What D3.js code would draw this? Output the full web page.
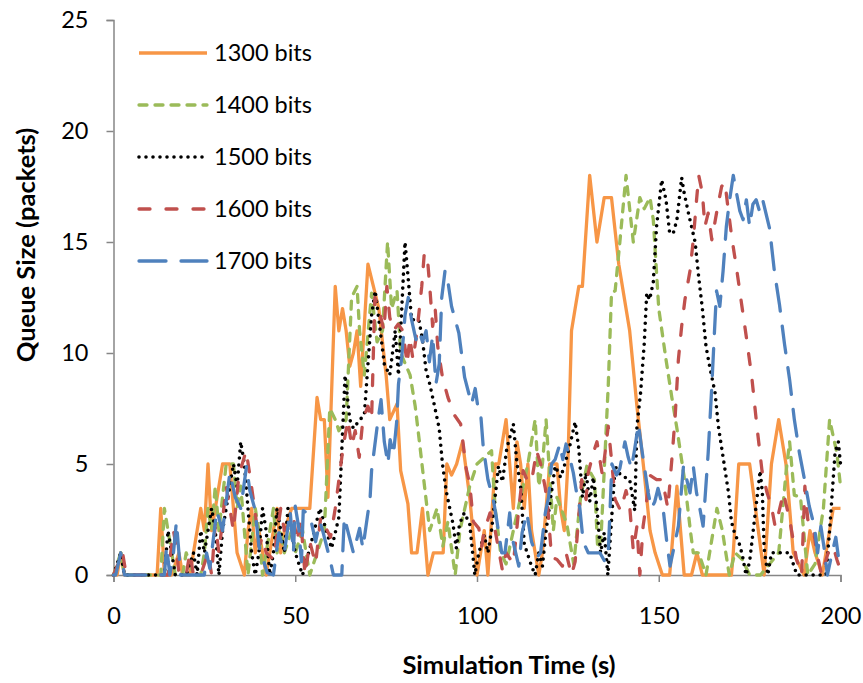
<!DOCTYPE html>
<html><head><meta charset="utf-8">
<script src="https://cdn.jsdelivr.net/npm/d3@7/dist/d3.min.js"></script>
<style>body{margin:0;background:#fff}svg{display:block}text{font-family:Lato,"Open Sans",sans-serif}</style>
</head><body><svg id="c" width="863" height="683"></svg>
<script>
const seriesNames = ["1300 bits","1400 bits","1500 bits","1600 bits","1700 bits"];
const xTicks = [0,50,100,150,200];
const yTicks = [0,5,10,15,20,25];

const s1300 = [[0,0],[1,0],[2,1],[3,0],[12,0],[13,3],[14,0],[16,0],[18,1],[19,0],[21,0],[22,1],[24,3],[25,2],[26,5],[27,2],[28,3],[30,5],[32,5],[33,3],[34,1],[36,0],[37,2],[38,3],[39,1],[40,2],[42,0],[43,1],[45,3],[46,1],[47,2],[49,3],[54,3],[56,8],[57,7],[58,7],[59,3.5],[61,13],[62,11],[63,12],[64,11],[65,9.4],[66,10],[67,11],[68,8.5],[70,14],[71.5,13],[73,12],[75,9],[76,7],[78,7.7],[79,4.7],[81,3.2],[82,1],[83.5,1],[85,3],[86.5,0],[88,1],[90.7,1],[91.7,5],[93,4.5],[94.4,5],[96,6],[98,3.5],[100,0],[101,1],[102,2],[103,0],[105,5],[106,5],[108,7],[110,3],[111,6],[112,5],[113,3],[114,5],[115,2],[116,1],[117,0],[118,1],[119,3],[120,5],[122,5],[123,3],[124,2],[125,5],[126,11],[127,12],[128,13],[129,13],[131,18],[133,15],[135,17],[137,17],[139,14],[142,11],[144,7.6],[146,4.6],[147.6,2],[149,1],[151,0],[153,0],[155,4],[157,0],[159,0],[160.5,1],[162,0],[170,0],[170.5,1],[172,5],[175,5],[179,0],[181,5],[183,7],[185,5],[187,1],[190,0],[191.6,2],[193,1],[195,0],[198,3],[200,3]];

const s1400 = [[0,0],[2,1],[3,0],[13,0],[14,3],[15,2],[16,1],[17,0],[19,0],[20,1],[22,0],[24,0],[25,1],[26,3],[27,2],[28,4],[29,2],[31,5],[33,5],[34,3],[35,4],[36,2],[37,0],[39,3],[40,2],[41,0],[42,1],[44,3],[45,1],[46,2],[47,1],[49,2],[50,1],[52,2],[54,0],[56,1],[58,2],[59.5,7.5],[61,7],[62,6.5],[64,7],[65.5,12.5],[67,13],[67.7,11],[69,9],[71,12.7],[72.5,10.5],[74,11],[75.4,15],[76.5,12],[78,12.8],[79,10],[81.6,9],[83,7.6],[84.3,5.8],[85.7,3.8],[87,2],[89,3],[90.6,1.3],[92,2.4],[94,0],[95.3,2],[98,4],[100,5],[102,5.3],[104,5.6],[105,3],[106.5,1],[108,0.5],[110,2],[112,3.5],[114,5],[116,7],[117,4],[118,5],[119,7],[121,2],[122,3.5],[124.7,2.3],[126.6,0.5],[128.5,3.5],[130.2,4.9],[132.3,4.3],[133.2,1.2],[134.1,1.6],[136.1,8.5],[137,12.7],[138,12.8],[139.3,15],[141,18],[143,15],[144.8,17],[146,16.5],[147.6,17],[148.5,16],[150,12],[152,9.7],[153.6,8],[155,6.6],[157,4.4],[158.7,2],[159.5,1],[161,1],[163,0],[164,1],[166,3],[167.5,2],[169.4,0],[171,1],[173,0.7],[175,0],[178,0],[183,1],[185,4.6],[186,6],[187.3,3.6],[189,3.5],[191,0],[193,0.5],[195.3,3],[197,7],[199,5.5],[200,4]];

const s1500 = [[0,0],[2,1],[3,0],[12,0],[14,0],[15,2],[16,1],[17,0],[20,0],[22,1],[23,0],[24,2],[25,1],[27,3],[28,2],[29,0],[30,2],[31,3],[32,4],[33,5],[34,4],[35,6],[36,5],[37,3],[38,1],[39,0],[40,1],[41,3],[42,2],[43,0],[44,1],[45,3],[46,2],[47,1],[48,3],[49,2],[50,1],[52,0],[54,1.2],[56.8,3],[58,2.3],[60,1.2],[62,2.6],[63.7,9],[65,7],[66,6.6],[67.8,7],[69,7.2],[70,9.5],[71,11.7],[72,12.8],[73,11.5],[74.5,9.5],[76,9],[77.5,11],[78.4,9],[79.3,12],[80.2,15],[81,13.5],[82,11.5],[84,11.5],[85,10.6],[86,9.2],[87,8.6],[88.2,7.7],[89.6,6.6],[90.5,5],[91.5,3.8],[93.4,2.3],[94.3,1.2],[95.2,2.3],[96.5,2.8],[98,2.3],[99.4,0],[100.5,1],[102,1.8],[103,1],[104,2],[105.9,4.9],[107,4.2],[108.2,5.7],[110,6.8],[111,5],[112,4],[113,1.4],[115,0.4],[116,0],[117,1],[118,0.4],[119,2],[121.5,4.9],[123,4.4],[124,4.9],[125.5,5.8],[127,6.9],[128,5.7],[129,3.5],[130,4.6],[131,3.3],[132,4.4],[133,3],[134,1],[135,1.9],[136,0],[138,4.9],[139.5,4.5],[142,4.3],[143.4,2.9],[144,6.7],[145,8.2],[146,10.4],[146.7,12.7],[147.5,12.4],[148.5,13.2],[149.4,15.7],[150.8,17.8],[152,16.9],[153,15.4],[154,15.4],[155,16],[156.3,17.9],[157,17.2],[158.3,16.2],[160,15],[161,13.4],[162,12],[163,10.3],[164,9.4],[165.5,8.2],[166.4,6.7],[167.8,5.2],[169.2,3.7],[170,2.4],[171,1.8],[172,1.5],[173,0.9],[174,0],[175,0.6],[177.9,4.7],[178.5,3.7],[179,1.2],[180,0],[181,1],[183,1],[186,1],[188,0],[196,0],[197,2],[198.5,5.5],[199.4,6],[200,5]];

const s1600 = [[0,0],[2.5,1],[3.5,0],[13,0],[15,0],[16.5,2],[17.5,1],[18,0],[20,0],[21,1],[22,0],[24,0],[26,1],[27,0],[28,2.3],[29,1],[31,4],[32,3],[33,2],[34.5,4.5],[36.5,5.6],[37.5,4.5],[39,2.8],[40,1.3],[41,1.7],[42,1],[44,0.7],[46,3],[47,2],[49.5,2.6],[50.5,1.5],[51.5,2.5],[52.7,0],[54,1.5],[55.6,0.5],[57,2.6],[59.7,1.7],[61,3],[63.2,5.8],[64.5,7],[65.5,5.8],[66.5,6.5],[67.6,5.3],[68.6,7],[70,7.6],[71,7],[71.9,12.5],[73,12],[74.4,11],[75.2,13],[76,11.6],[77,11],[78.3,11.3],[79.6,11],[80.8,9.5],[81.5,10.7],[82.4,9.7],[83.5,11],[84.8,13],[85.5,14.5],[86.3,14.4],[87,13],[87.8,11.2],[88.5,12],[89.2,10.3],[90.5,8.9],[92,8],[93.8,7.2],[95.5,6.8],[96.2,5.9],[97,4.8],[98,4.1],[99,2.4],[100.5,2.1],[101.3,1.3],[102,2],[103.6,2.8],[105,2],[107,0.2],[108,1],[110,0.5],[111.5,3],[112.7,4.7],[114,4.2],[115,4.2],[116.4,5.6],[117.5,5],[118.8,3.9],[119.5,3],[120.5,0.8],[122,0.7],[123.5,0.4],[124.5,1],[126,0],[127,0.6],[128.8,4.3],[130,3.4],[130.6,4.6],[132,5.5],[133,6],[134.5,4.5],[136.1,6.7],[137,5.2],[138,3.4],[139.5,2.9],[141,3.8],[142,3.1],[143,1.1],[144,2.2],[144.8,0],[145.7,2.2],[146.5,3.1],[147.5,4.5],[149.4,4.3],[151,4.3],[152.5,3],[153.6,5.2],[154.5,7.1],[155.4,9.7],[156.3,11.2],[157.2,12.4],[158.6,13.7],[159.5,15.1],[160.4,16.9],[161,18],[162,17.2],[162.7,15.7],[163.6,16.3],[164.6,15.1],[166,16.4],[167.3,17.5],[168.2,17.7],[169,16.6],[170.1,15.2],[171.5,13.7],[172.8,12.2],[174.2,10.6],[175.6,8.9],[177,6.7],[178.4,4.7],[179.8,3.7],[181,3.1],[182,2.2],[183,2.8],[184.3,3.7],[186,2.5],[187.9,0.7],[189.3,0],[190.2,4],[191,2.5],[192.4,2.2],[193.5,1],[194.8,0],[196.6,1],[198,1.3],[199,0.7],[200,0.2]];

const s1700 = [[0,0],[0.6,0],[2,1],[3,0],[14,0],[14.6,1.3],[15.5,0],[16.5,1],[17.3,2.4],[18.5,0],[25,0],[25.6,1],[26.5,0.3],[28.4,2.9],[30,2],[32,4.6],[33.5,3.5],[35,3],[36.6,4.9],[37.5,3.8],[39,2.9],[40,1.3],[42.3,0.1],[44,0],[45.5,1.9],[47,1],[48.6,2.9],[49.5,1],[50,3.1],[51,2.1],[51.7,0.6],[52.2,2.9],[54,2.7],[55.6,1.5],[56.8,2.4],[57.7,1.9],[59.7,0.6],[60.5,0],[62.8,0],[63.5,2.6],[64.9,1.7],[66,1],[67.7,2.1],[68.6,1.2],[70.6,3.5],[71,4.7],[72.7,6.9],[73.6,7.9],[74.5,6],[75.5,5],[76.1,6.1],[77,5.4],[77.9,6.9],[78.4,8.6],[79.3,9.8],[80.2,11.7],[81.1,12.5],[82,11.5],[83.2,10.6],[84.1,11],[85,10.5],[86,11],[86.9,9.6],[87.8,10.8],[88.7,8.6],[89.6,9.5],[90.3,12.5],[91.2,13.7],[92.1,13.1],[93,12.1],[94,11.5],[95,10.9],[96.6,8.9],[98.5,7.7],[99.5,8.4],[100.3,7.5],[101,7.3],[101.7,5.8],[103,4.3],[104.6,3.3],[105.5,2.4],[106.8,1],[107.7,1],[109,2.8],[109.5,1.8],[110.5,1.1],[111.5,0.4],[112.4,1.9],[113.7,2.8],[115,1.5],[116.5,0.8],[117.5,1],[118.8,2.8],[119.7,3.5],[120.5,5],[121.5,5.2],[122.8,5.9],[123.6,5.2],[124.5,5.9],[125.5,5.3],[126.5,4.6],[127.4,3.7],[128.3,3],[129.2,1.5],[130.6,1],[133.8,1],[135.2,0.6],[136.1,1],[136.6,2.9],[137.1,5],[138.4,4.5],[139.3,4.8],[140.7,6],[141.6,5.3],[142.5,4.8],[143.4,5.7],[144.4,6.8],[145.3,5.7],[146.2,4.7],[147.1,3.7],[148,3],[148.9,3.3],[149.8,3.9],[151.2,3],[152.2,1.5],[153.1,0.4],[154,1.1],[155.4,2.2],[156.8,4.9],[157.7,4.3],[158.6,3.7],[159.5,4.9],[160.4,3.7],[161.3,3],[162.2,2.2],[163.6,5.5],[164.5,8.2],[165.4,11.2],[165.9,12.8],[166.8,12.1],[167.7,13.7],[168.6,15.7],[169.5,16.9],[170.5,18],[171.4,17.2],[172.3,16.4],[173.2,16],[174.1,16.9],[175,15.7],[175.9,16.7],[176.8,16.9],[177.7,16.4],[178.6,16.9],[180.5,15.6],[181.8,13.7],[183.2,12.2],[184.6,10.4],[186,8.8],[187.3,7],[188.7,5.5],[190.1,4.3],[191.4,3.1],[192.8,2.2],[193.7,1],[194.6,2.2],[195.5,1.2],[196.4,0],[197.3,0.7],[198.7,1.7],[199.6,0.6],[200,0.7]];

const seriesData = [s1300, s1400, s1500, s1600, s1700];
const colors = ["#F79646","#9BBB59","#000000","#C0504D","#4F81BD"];
const dashes = [null, "8,8", "0,7", "11,16", "27,15"];
const widths = [3.3, 3.3, 3.6, 3.3, 3.3];

const svg = d3.select("#c");
const x = d3.scaleLinear().domain([0,200]).range([113.5,840.5]);
const y = d3.scaleLinear().domain([0,25]).range([575,20]);
const axisColor = "#868686";
const fs = 23.5;
const ts = 25.5;

// y axis
const ya = svg.append("g").attr("transform","translate(113.5,0)")
  .call(d3.axisLeft(y).tickValues(yTicks).tickSize(7).tickPadding(18).tickFormat(d3.format("d")));
ya.select(".domain").attr("stroke",axisColor).attr("stroke-width",1.5);
ya.selectAll(".tick line").attr("stroke",axisColor).attr("stroke-width",1.5);
ya.selectAll("text").attr("font-size",fs).attr("fill","#000").style("font-family","Lato");

// x axis
const xa = svg.append("g").attr("transform","translate(0,575)")
  .call(d3.axisBottom(x).tickValues(xTicks).tickSize(7).tickPadding(25).tickFormat(d3.format("d")));
xa.select(".domain").attr("stroke",axisColor).attr("stroke-width",1.5);
xa.selectAll(".tick line").attr("stroke",axisColor).attr("stroke-width",1.5);
xa.selectAll("text").attr("font-size",fs).attr("fill","#000").style("font-family","Lato");

const line = d3.line().x(d=>x(d[0])).y(d=>y(d[1]));
seriesData.forEach((data,i)=>{
  const p = svg.append("path").datum(data).attr("d",line)
    .attr("fill","none").attr("stroke",colors[i]).attr("stroke-width",widths[i])
    .attr("stroke-linejoin","round").attr("stroke-linecap", dashes[i]?"round":"butt");
  if(dashes[i]) p.attr("stroke-dasharray",dashes[i]);
});

// legend
const lg = svg.append("g");
seriesNames.forEach((n,i)=>{
  const yy = 53 + i*52;
  const l = lg.append("line").attr("x1",139).attr("x2",207).attr("y1",yy).attr("y2",yy)
    .attr("stroke",colors[i]).attr("stroke-width",widths[i])
    .attr("stroke-linecap", dashes[i]?"round":"butt");
  if(dashes[i]) l.attr("stroke-dasharray",dashes[i]);
  lg.append("text").attr("x",214).attr("y",yy).attr("dy","0.35em")
    .attr("font-size",fs).attr("fill","#000").text(n);
});

// axis titles
svg.append("text").attr("x",509).attr("y",674).attr("text-anchor","middle")
  .attr("font-size",ts).attr("font-weight","bold").attr("fill","#000").text("Simulation Time (s)");
svg.append("text").attr("transform","translate(35,245) rotate(-90)").attr("text-anchor","middle")
  .attr("font-size",ts).attr("font-weight","bold").attr("fill","#000").text("Queue Size (packets)");
</script></body></html>
